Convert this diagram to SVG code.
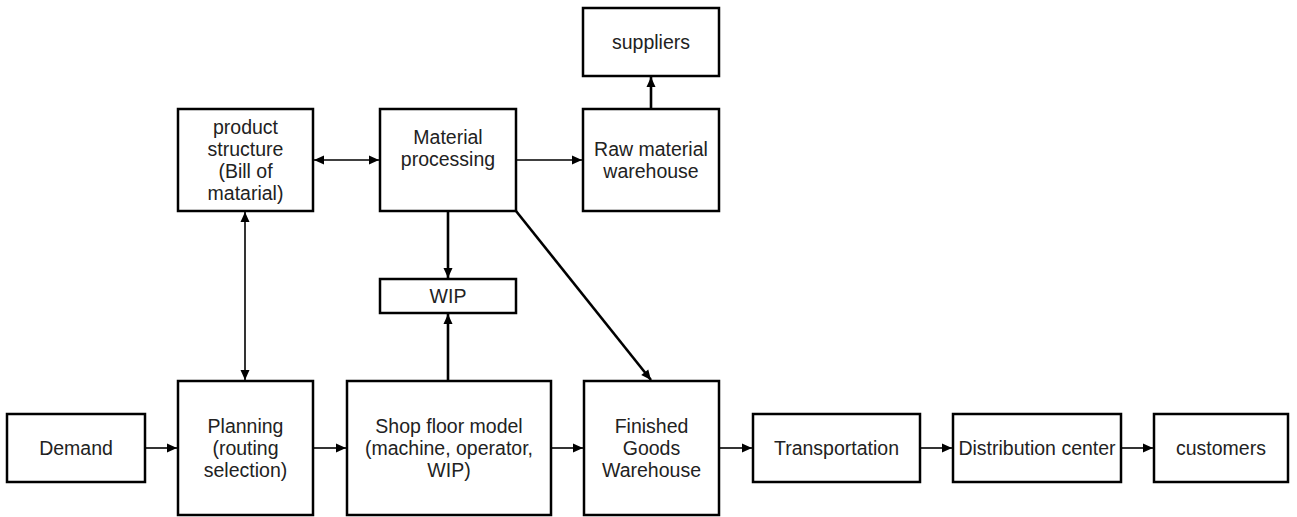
<svg xmlns="http://www.w3.org/2000/svg" width="1297" height="517" viewBox="0 0 1297 517">
<defs>
<marker id="ah" markerUnits="userSpaceOnUse" markerWidth="12" markerHeight="12" viewBox="0 0 12 12" refX="11" refY="6" orient="auto-start-reverse">
<path d="M1,1.5 L11,6 L1,10.5 Z" fill="#000"/>
</marker>
<style>
.box{fill:#fff;stroke:#000;stroke-width:2.5}
.t{font-family:"Liberation Sans",Arial,sans-serif;font-size:19.5px;fill:#222;text-anchor:middle}
.c{fill:none;stroke:#000;stroke-width:1.6}
.ck{fill:none;stroke:#000;stroke-width:2.6}
</style>
</defs>
<rect width="1297" height="517" fill="#fff"/>
<g id="connectors">
<line class="c" x1="314" y1="160" x2="379" y2="160" marker-start="url(#ah)" marker-end="url(#ah)"/>
<line class="c" x1="517" y1="160" x2="582" y2="160" marker-end="url(#ah)"/>
<line class="ck" x1="651" y1="108" x2="651" y2="77" marker-end="url(#ah)"/>
<line class="ck" x1="448" y1="212" x2="448" y2="278" marker-end="url(#ah)"/>
<line class="ck" x1="448" y1="380" x2="448" y2="314" marker-end="url(#ah)"/>
<line class="ck" x1="516" y1="211" x2="651" y2="380" marker-end="url(#ah)"/>
<line class="c" x1="245" y1="212" x2="245" y2="380" marker-start="url(#ah)" marker-end="url(#ah)"/>
<line class="c" x1="146" y1="448" x2="177" y2="448" marker-end="url(#ah)"/>
<line class="c" x1="314" y1="448" x2="346" y2="448" marker-end="url(#ah)"/>
<line class="c" x1="552" y1="448" x2="583" y2="448" marker-end="url(#ah)"/>
<line class="c" x1="720" y1="448" x2="752" y2="448" marker-end="url(#ah)"/>
<line class="c" x1="921" y1="448" x2="952" y2="448" marker-end="url(#ah)"/>
<line class="c" x1="1122" y1="448" x2="1153" y2="448" marker-end="url(#ah)"/>
</g>
<g id="suppliers"><rect class="box" x="583" y="8" width="136" height="68"/><text class="t" x="651" y="49">suppliers</text></g>
<g id="product"><rect class="box" x="178" y="109" width="135" height="102"/>
<text class="t" x="245.5" y="134">product</text><text class="t" x="245.5" y="156">structure</text><text class="t" x="245.5" y="178">(Bill of</text><text class="t" x="245.5" y="200">matarial)</text></g>
<g id="material"><rect class="box" x="380" y="109" width="136" height="102"/>
<text class="t" x="448" y="144">Material</text><text class="t" x="448" y="166">processing</text></g>
<g id="raw"><rect class="box" x="583" y="109" width="136" height="102"/>
<text class="t" x="651" y="156">Raw material</text><text class="t" x="651" y="178">warehouse</text></g>
<g id="wip"><rect class="box" x="380" y="279" width="136" height="34"/><text class="t" x="448" y="303">WIP</text></g>
<g id="demand"><rect class="box" x="7" y="414" width="138" height="68"/><text class="t" x="76" y="455">Demand</text></g>
<g id="planning"><rect class="box" x="178" y="381" width="135" height="134"/>
<text class="t" x="245.5" y="433">Planning</text><text class="t" x="245.5" y="455">(routing</text><text class="t" x="245.5" y="477">selection)</text></g>
<g id="shop"><rect class="box" x="347" y="381" width="204" height="134"/>
<text class="t" x="449" y="433">Shop floor model</text><text class="t" x="449" y="455">(machine, operator,</text><text class="t" x="449" y="477">WIP)</text></g>
<g id="finished"><rect class="box" x="584" y="381" width="135" height="134"/>
<text class="t" x="651.5" y="433">Finished</text><text class="t" x="651.5" y="455">Goods</text><text class="t" x="651.5" y="477">Warehouse</text></g>
<g id="transportation"><rect class="box" x="753" y="414" width="167" height="68"/><text class="t" x="836.5" y="455">Transportation</text></g>
<g id="distribution"><rect class="box" x="953" y="414" width="168" height="68"/><text class="t" x="1037" y="455">Distribution center</text></g>
<g id="customers"><rect class="box" x="1154" y="414" width="134" height="68"/><text class="t" x="1221" y="455">customers</text></g>
</svg>
